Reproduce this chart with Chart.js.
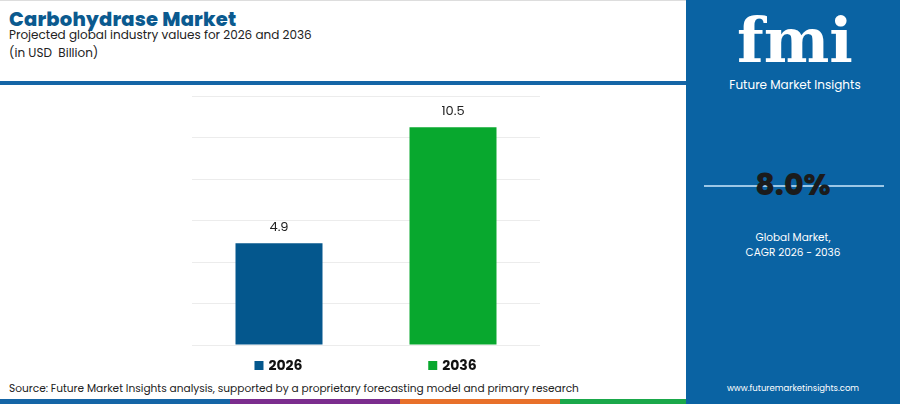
<!DOCTYPE html>
<html><head><meta charset="utf-8">
<script src="https://cdn.jsdelivr.net/npm/chart.js@4"></script>
<style>
body{margin:0;width:900px;height:404px;position:relative;overflow:hidden;background:#fff;font-family:Poppins,"Open Sans","Noto Sans",sans-serif}
.a{position:absolute;white-space:nowrap}
</style></head><body>
<div class="a" style="left:0;top:0;width:686px;height:1px;background:#ddd"></div>
<div class="a" style="left:9px;top:5px;font-size:19.5px;font-weight:800;color:#0b5a8f;letter-spacing:0.2px">Carbohydrase Market</div>
<div class="a" style="left:9px;top:26px;font-size:12px;color:#222">Projected global industry values for 2026 and 2036</div>
<div class="a" style="left:9px;top:44px;font-size:12px;color:#222">(in USD&nbsp; Billion)</div>
<div class="a" style="left:0;top:81px;width:686px;height:4px;background:#1565a6"></div>
<div class="a" style="left:686px;top:0;width:214px;height:404px;background:#0a63a3"></div>
<div class="a" style="left:720px;top:8px;width:150px;text-align:center;font-family:'DejaVu Serif',serif;font-size:62px;font-weight:bold;color:#fff;line-height:66px">fmi</div>
<div class="a" style="left:720px;top:76px;width:150px;text-align:center;font-size:12px;color:#fff">Future Market Insights</div>
<div class="a" style="left:704px;top:185px;width:180px;height:2px;background:#9cc7e6"></div>
<div class="a" style="left:686px;top:162px;width:214px;text-align:center;font-size:30px;font-weight:800;color:#1b1b1b">8.0%</div>
<div class="a" style="left:686px;top:230px;width:214px;text-align:center;font-size:10.5px;color:#fff;line-height:15px">Global Market,<br>CAGR 2026 - 2036</div>
<div class="a" style="left:686px;top:382px;width:214px;text-align:center;font-size:8.5px;color:#fff">www.futuremarketinsights.com</div>
<div class="a" style="left:9px;top:381px;font-size:10.6px;color:#222">Source: Future Market Insights analysis, supported by a proprietary forecasting model and primary research</div>
<div class="a" style="left:0;top:399px;width:230px;height:5px;background:#1565a6"></div>
<div class="a" style="left:230px;top:399px;width:170px;height:5px;background:#7b2d8e"></div>
<div class="a" style="left:400px;top:399px;width:160px;height:5px;background:#e8702a"></div>
<div class="a" style="left:560px;top:399px;width:126px;height:5px;background:#1aa84a"></div>
<div class="a" style="left:192px;top:80px;width:348px;height:300px"><canvas id="c"></canvas></div>
<script>
const categories=["2026","2036"];
const values=[4.9,10.5];
const colors=["#04578d","#08a82e"];
const yTicks=[0,2,4,6,8,10,12];
const lbl={id:'lbl',afterDatasetsDraw(ch){const c=ch.ctx,m=ch.getDatasetMeta(0),x=ch.scales.x;c.save();
m.data.forEach((b,i)=>{c.fillStyle='#222';c.font='13px Poppins, "Open Sans", sans-serif';c.textAlign='center';c.textBaseline='bottom';c.fillText(values[i].toFixed(1),b.x,b.y-9);
const px=x.getPixelForValue(i),y=ch.chartArea.bottom+20;c.font='bold 14px Poppins, "Open Sans", sans-serif';c.textAlign='left';c.textBaseline='middle';const w=c.measureText(categories[i]).width;const s=px-(w+15)/2;c.fillStyle=colors[i];c.fillRect(s,y-4,9,9);c.fillStyle='#111';c.fillText(categories[i],s+14,y+1);});c.restore();}};
new Chart(document.getElementById('c'),{type:'bar',data:{labels:categories,datasets:[{data:values,backgroundColor:colors,barPercentage:0.5,categoryPercentage:1}]},
options:{responsive:true,maintainAspectRatio:false,animation:false,layout:{padding:{top:16,bottom:35}},plugins:{legend:{display:false},tooltip:{enabled:false}},
scales:{x:{display:false},y:{min:0,max:12,afterBuildTicks(s){s.ticks=yTicks.map(v=>({value:v}))},ticks:{display:false},grid:{color:'#ececec',drawTicks:false},border:{display:false}}}},plugins:[lbl]});
</script></body></html>
